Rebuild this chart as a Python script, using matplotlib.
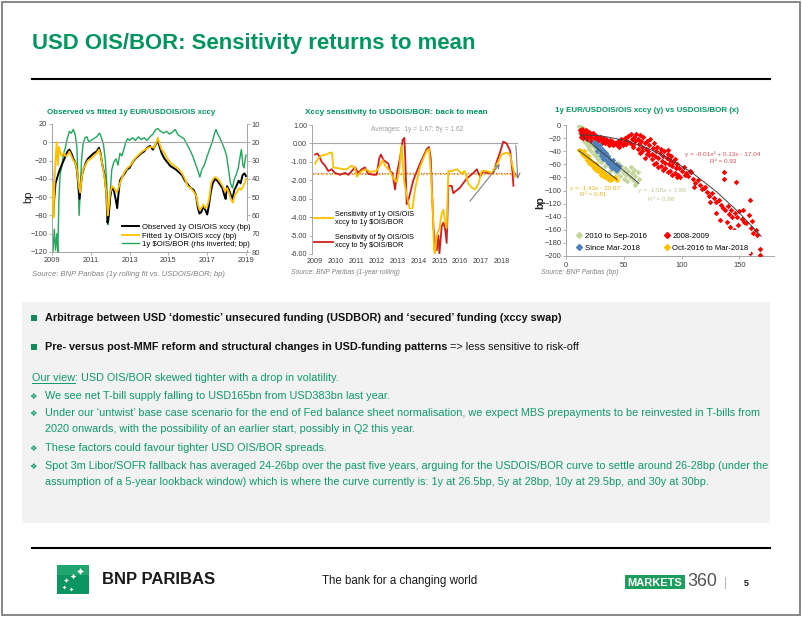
import matplotlib
matplotlib.use('Agg')
import matplotlib.pyplot as plt
from matplotlib import font_manager
from matplotlib.patches import Rectangle
from matplotlib.lines import Line2D

# ============================ DATA ============================
# Chart 1: Observed vs fitted 1y EUR/USDOIS/OIS xccy (bp); USD OIS/BOR on rhs (inverted)
c1_obs_t = [2009.00, 2009.03, 2009.07, 2009.12, 2009.18, 2009.25, 2009.32, 2009.40, 2009.50, 2009.60,
            2009.70, 2009.80, 2009.90, 2010.00, 2010.10, 2010.20, 2010.28, 2010.35, 2010.42, 2010.48,
            2010.55, 2010.65, 2010.75, 2010.85, 2011.00, 2011.15, 2011.30, 2011.42, 2011.50, 2011.60,
            2011.70, 2011.80, 2011.86, 2011.92, 2012.00, 2012.08, 2012.18, 2012.28, 2012.36, 2012.42,
            2012.50, 2012.60, 2012.72, 2012.85, 2013.00, 2013.15, 2013.30, 2013.45, 2013.60, 2013.75,
            2013.90, 2014.05, 2014.20, 2014.35, 2014.45, 2014.55, 2014.65, 2014.80, 2014.95, 2015.10,
            2015.25, 2015.40, 2015.55, 2015.70, 2015.85, 2016.00, 2016.15, 2016.30, 2016.42, 2016.52,
            2016.60, 2016.70, 2016.80, 2016.90, 2017.00, 2017.08, 2017.18, 2017.28, 2017.40, 2017.52,
            2017.65, 2017.78, 2017.88, 2017.95, 2018.02, 2018.12, 2018.22, 2018.30, 2018.40, 2018.50,
            2018.62, 2018.72, 2018.82, 2018.92, 2019.00]
c1_obs_v = [-20, -70, -80, -60, -45, -40, -35, -30, -25, -20,
            -15, -10, -8, -12, -18, -22, -30, -45, -62, -48,
            -35, -28, -22, -18, -15, -12, -10, -6, -12, -25,
            -35, -55, -88, -80, -60, -50, -52, -62, -72, -58,
            -42, -38, -35, -30, -28, -22, -18, -15, -12, -10,
            -6, -4, -8, -2, 2, -5, -12, -18, -22, -26,
            -28, -30, -33, -36, -42, -46, -50, -52, -58, -72,
            -78, -76, -70, -74, -79, -70, -55, -45, -40, -42,
            -46, -50, -58, -62, -48, -52, -58, -62, -52, -48,
            -42, -45, -36, -34, -37]
c1_fit_t = [2009.00, 2009.04, 2009.08, 2009.12, 2009.18, 2009.24, 2009.30, 2009.36, 2009.42, 2009.50,
            2009.60, 2009.70, 2009.80, 2009.90, 2010.00, 2010.10, 2010.20, 2010.30, 2010.38, 2010.45,
            2010.52, 2010.60, 2010.72, 2010.85, 2011.00, 2011.15, 2011.30, 2011.42, 2011.52, 2011.62,
            2011.72, 2011.80, 2011.87, 2011.93, 2012.00, 2012.10, 2012.20, 2012.32, 2012.40, 2012.50,
            2012.62, 2012.75, 2012.90, 2013.05, 2013.20, 2013.35, 2013.50, 2013.65, 2013.80, 2013.95,
            2014.10, 2014.25, 2014.38, 2014.45, 2014.55, 2014.65, 2014.80, 2014.95, 2015.10, 2015.25,
            2015.40, 2015.55, 2015.70, 2015.85, 2016.00, 2016.15, 2016.30, 2016.42, 2016.52, 2016.60,
            2016.70, 2016.80, 2016.90, 2017.00, 2017.10, 2017.20, 2017.30, 2017.42, 2017.55, 2017.68,
            2017.80, 2017.92, 2018.02, 2018.12, 2018.22, 2018.32, 2018.42, 2018.52, 2018.65, 2018.75,
            2018.85, 2018.95, 2019.00]
c1_fit_v = [-45, -60, -82, -50, -20, 0, -25, -5, -10, -15,
            -12, -15, -14, -10, -15, -20, -22, -32, -48, -55,
            -40, -30, -25, -20, -18, -15, -12, -8, -15, -28,
            -40, -55, -80, -70, -55, -48, -50, -55, -52, -45,
            -38, -32, -28, -25, -20, -16, -13, -10, -8, -6,
            -5, -6, 0, 5, -2, -8, -12, -18, -22, -25,
            -27, -30, -34, -40, -48, -50, -54, -58, -68, -74,
            -72, -68, -72, -70, -62, -45, -40, -38, -40, -44,
            -48, -54, -50, -55, -62, -66, -58, -55, -50, -52,
            -48, -44, -40]
c1_bor_t = [2009.00, 2009.05, 2009.12, 2009.18, 2009.25, 2009.30, 2009.36, 2009.42, 2009.50, 2009.60,
            2009.70, 2009.80, 2009.90, 2010.00, 2010.10, 2010.20, 2010.28, 2010.34, 2010.40, 2010.46,
            2010.52, 2010.60, 2010.70, 2010.80, 2010.90, 2011.00, 2011.15, 2011.30, 2011.45, 2011.55,
            2011.65, 2011.75, 2011.82, 2011.88, 2011.93, 2012.00, 2012.08, 2012.18, 2012.30, 2012.40,
            2012.50, 2012.60, 2012.70, 2012.80, 2012.90, 2013.00, 2013.15, 2013.30, 2013.45, 2013.60,
            2013.75, 2013.90, 2014.05, 2014.20, 2014.35, 2014.45, 2014.60, 2014.75, 2014.90, 2015.05,
            2015.20, 2015.35, 2015.50, 2015.65, 2015.80, 2015.95, 2016.10, 2016.25, 2016.40, 2016.55,
            2016.62, 2016.72, 2016.85, 2017.00, 2017.15, 2017.28, 2017.38, 2017.45, 2017.52, 2017.62,
            2017.75, 2017.90, 2018.00, 2018.10, 2018.20, 2018.30, 2018.40, 2018.50, 2018.60, 2018.70,
            2018.76, 2018.84, 2018.90, 2018.96, 2019.00]
c1_bor_v = [75, 80, 67.5, 79, 70, 80, 50, 37.5, 33.5, 26,
            22.5, 17.5, 14, 15, 13, 16, 22.5, 40, 60, 45,
            30, 21, 17.5, 17, 20, 19, 18, 17, 15, 17.5,
            21, 30, 42.5, 65, 62.5, 47.5, 35, 31, 29, 32.5,
            26, 27.5, 24, 20, 18, 19, 17.5, 19, 17, 18.5,
            17.5, 19, 17, 15.5, 13, 12.5, 14, 15, 14, 15.5,
            14.5, 13, 16, 17, 18, 21, 24, 27.5, 32, 36.5,
            39, 35, 32.5, 27.5, 23, 19, 15, 13, 15, 17,
            20, 24, 27.5, 35, 42.5, 45, 40, 37.5, 34, 27.5,
            24, 32.5, 34, 29, 27]
c1_xticks = [2009, 2011, 2013, 2015, 2017, 2019]
c1_yticks = [-120, -100, -80, -60, -40, -20, 0, 20]
c1_rticks = [10, 20, 30, 40, 50, 60, 70, 80]
c1_labels = ['Observed 1y OIS/OIS xccy (bp)', 'Fitted 1y OIS/OIS xccy (bp)',
             '1y $OIS/BOR (rhs inverted; bp)']

# Chart 2: rolling sensitivity of xccy to USD OIS/BOR
c2_1y_t = [2009.00, 2009.16, 2009.32, 2009.56, 2009.72, 2009.82, 2009.88, 2010.13, 2010.37, 2010.53,
           2010.77, 2010.93, 2011.01, 2011.25, 2011.46, 2011.65, 2011.97, 2012.13, 2012.26, 2012.38,
           2012.62, 2012.78, 2012.94, 2013.07, 2013.18, 2013.29, 2013.42, 2013.58, 2013.71, 2013.82,
           2014.06, 2014.23, 2014.39, 2014.50, 2014.58, 2014.68, 2014.74, 2014.79, 2014.87, 2015.00,
           2015.11, 2015.19, 2015.27, 2015.35, 2015.43, 2015.59, 2015.83, 2016.07, 2016.23, 2016.40,
           2016.56, 2016.72, 2016.88, 2017.04, 2017.28, 2017.52, 2017.68, 2017.84, 2018.00, 2018.24,
           2018.41, 2018.52, 2018.65]
c2_1y_v = [-1.10, -0.80, -0.65, -0.60, -0.50, -0.50, -1.30, -1.35, -1.40, -1.40,
           -1.20, -1.35, -1.80, -1.50, -1.40, -1.55, -1.50, -1.20, -0.90, -1.20,
           -1.50, -1.90, -2.10, -1.40, -0.10, -2.00, -2.80, -3.60, -3.50, -2.50,
           -1.30, -0.80, -0.40, -0.30, -1.50, -3.50, -5.80, -6.00, -5.00, -4.60,
           -3.80, -3.60, -4.20, -4.60, -1.50, -1.50, -1.40, -1.60, -1.50, -2.20,
           -2.40, -2.50, -2.20, -1.50, -1.50, -1.60, -1.30, -1.00, -0.60, -0.50,
           -0.60, -1.20, -1.80]
c2_5y_t = [2009.00, 2009.11, 2009.21, 2009.32, 2009.48, 2009.64, 2009.80, 2009.96, 2010.21, 2010.45,
           2010.61, 2010.77, 2010.93, 2011.09, 2011.25, 2011.41, 2011.57, 2011.81, 2011.97, 2012.10,
           2012.18, 2012.30, 2012.42, 2012.54, 2012.62, 2012.73, 2012.86, 2012.97, 2013.10, 2013.23,
           2013.31, 2013.36, 2013.42, 2013.50, 2013.74, 2014.06, 2014.39, 2014.50, 2014.58, 2014.71,
           2014.79, 2014.87, 2014.95, 2015.00, 2015.11, 2015.19, 2015.27, 2015.35, 2015.43, 2015.59,
           2015.67, 2015.99, 2016.32, 2016.64, 2016.80, 2016.96, 2017.12, 2017.28, 2017.60, 2017.76,
           2017.92, 2018.08, 2018.24, 2018.41, 2018.52, 2018.57]
c2_5y_v = [-0.60, -0.55, -0.70, -1.00, -1.20, -1.50, -1.40, -1.60, -1.70, -1.60,
           -1.70, -1.50, -1.30, -1.60, -1.40, -1.30, -1.65, -1.70, -1.70, -0.80,
           -0.60, -0.90, -1.00, -1.10, -1.50, -1.60, -2.50, -1.50, -0.80, 0.20,
           0.30, -1.00, -3.30, -3.10, -2.00, -1.10, -0.30, -0.20, -0.80, -4.50,
           -5.50, -5.80, -5.00, -6.00, -4.50, -4.30, -4.60, -5.40, -2.30, -2.30,
           -2.70, -2.40, -1.90, -1.60, -1.40, -1.80, -1.50, -1.60, -1.60, -1.00,
           -0.50, 0.10, 0.00, -0.40, -1.50, -2.30]
c2_avg_1y = -1.67
c2_avg_5y = -1.62
c2_xticks = [2009, 2010, 2011, 2012, 2013, 2014, 2015, 2016, 2017, 2018]
c2_yticks = [1, 0, -1, -2, -3, -4, -5, -6]
c2_labels = ['Sensitivity of 1y OIS/OIS\nxccy to 1y $OIS/BOR', 'Sensitivity of 5y OIS/OIS\nxccy to 5y $OIS/BOR']

# Chart 3: scatter xccy (y) vs USDOIS/BOR (x)
red_x = [12, 13, 13, 14, 14, 15, 15, 16, 17, 17, 18, 18, 19, 20, 20, 21, 22, 22, 23, 24,
         25, 26, 27, 28, 29, 30, 31, 32, 33, 34, 35, 36, 37, 38, 39, 40, 41, 42, 44, 45,
         46, 47, 48, 49, 50, 51, 52, 53, 54, 55, 56, 57, 58, 59, 60, 61, 62, 63, 64, 65,
         66, 67, 68, 69, 70, 71, 72, 73, 74, 75, 76, 77, 78, 79, 80, 81, 82, 83, 84, 85,
         86, 87, 88, 89, 90, 91, 92, 93, 94, 96, 98, 100, 102, 104, 106, 108, 110, 112, 114, 116,
         118, 120, 122, 124, 126, 128, 130, 132, 134, 136, 137, 137, 138, 139, 140, 141, 142, 143, 144, 146,
         147, 148, 149, 150, 152, 153, 154, 156, 157, 158, 159, 159, 160, 161, 162, 164, 165, 168, 168, 130,
         133, 145, 74, 78, 82, 86, 90, 94, 97, 99, 76, 80, 84, 88, 92, 96, 70, 66, 62, 58,
         64, 68, 72, 88, 95, 103, 107, 111, 119, 125]
red_y = [-8, -12, -18, -6, -15, -10, -20, -13, -8, -17, -12, -22, -15, -10, -19, -14, -18, -24, -12, -20,
         -16, -22, -19, -25, -18, -22, -27, -20, -24, -28, -21, -26, -30, -23, -28, -25, -31, -27, -30, -24,
         -33, -28, -22, -31, -26, -20, -29, -24, -17, -27, -14, -22, -30, -18, -25, -13, -21, -29, -16, -24,
         -33, -19, -28, -36, -25, -40, -31, -22, -44, -35, -28, -48, -39, -33, -50, -43, -37, -55, -47, -40,
         -58, -50, -45, -60, -53, -48, -62, -56, -52, -60, -66, -70, -64, -74, -78, -72, -82, -88, -84, -92,
         -98, -94, -102, -108, -104, -112, -118, -114, -122, -126, -71, -83, -130, -148, -124, -136, -156, -130, -141, -134,
         -87, -140, -152, -131, -144, -130, -148, -150, -163, -138, -115, -196, -158, -147, -165, -160, -168, -189, -199, -135,
         -145, -160, -52, -58, -62, -66, -70, -74, -77, -79, -60, -64, -68, -72, -76, -80, -45, -40, -36, -34,
         -42, -50, -46, -38, -66, -76, -70, -95, -96, -118]
grn_x = [11, 12, 12, 13, 13, 14, 14, 15, 15, 16, 16, 17, 17, 18, 18, 19, 19, 20, 20, 21,
         22, 22, 23, 24, 24, 25, 26, 26, 27, 28, 28, 29, 30, 30, 31, 32, 33, 34, 34, 35,
         36, 37, 38, 38, 39, 40, 41, 42, 43, 44, 45, 46, 47, 48, 49, 50, 51, 52, 53, 54,
         55, 56, 57, 58, 59, 60, 61, 62, 63, 60]
grn_y = [-2, -6, -12, -3, -16, -9, -20, -5, -14, -24, -10, -18, -28, -12, -22, -32, -16, -26, -36, -20,
         -30, -40, -24, -34, -44, -28, -38, -48, -32, -42, -52, -36, -46, -56, -40, -50, -44, -54, -62, -48,
         -58, -52, -62, -70, -56, -66, -60, -70, -64, -74, -58, -68, -78, -62, -72, -82, -66, -76, -86, -70,
         -80, -64, -74, -84, -68, -78, -88, -72, -82, -92]
blu_x = [24, 25, 26, 27, 28, 27, 29, 30, 31, 30, 32, 33, 33, 34, 35, 36, 36, 37, 38, 38,
         39, 40, 40, 41, 42, 43, 43, 44, 45, 46, 44, 35, 32, 29, 41]
blu_y = [-26, -30, -28, -34, -32, -40, -37, -42, -36, -48, -44, -40, -50, -46, -54, -48, -58, -52, -60, -54,
         -64, -58, -66, -62, -66, -60, -69, -64, -66, -62, -69, -42, -52, -31, -54]
yel_x = [11, 13, 14, 15, 16, 16, 17, 18, 18, 19, 20, 20, 21, 22, 22, 23, 24, 24, 25, 26,
         26, 27, 28, 28, 29, 30, 30, 31, 32, 33, 34, 35, 36, 37, 38, 39, 40, 42, 44]
yel_y = [-38, -40, -44, -42, -40, -48, -46, -50, -54, -48, -52, -58, -54, -60, -56, -62, -58, -66, -62, -68,
         -60, -64, -70, -66, -72, -68, -76, -72, -78, -74, -80, -76, -82, -78, -84, -80, -82, -80, -84]
# trendlines
trend_red_x = [13, 30, 50, 70, 90, 110, 130, 150, 169]
trend_red_y = [-15.0, -16.5, -23.0, -34.8, -51.8, -74.0, -101.5, -134.1, -170.0]
trend_grn_x = [13, 63]
trend_grn_y = [-15, -89]
trend_yel_x = [11, 44]
trend_yel_y = [-39, -83]
c3_xticks = [0, 50, 100, 150]
c3_yticks = [0, -20, -40, -60, -80, -100, -120, -140, -160, -180, -200]
c3_labels = ['2010 to Sep-2016', 'Since Mar-2018', '2008-2009', 'Oct-2016 to Mar-2018']

# ============================ STYLE / FONTS ============================
SANS = ['Liberation Sans', 'DejaVu Sans']
plt.rcParams['font.family'] = SANS

W, H = 802, 617
fig = plt.figure(figsize=(W / 100, H / 100), dpi=100)
renderer = fig.canvas.get_renderer()

# choose the narrowest available sans face for the narrow-style texts of the slide
cands = [dict(family=['Liberation Sans Narrow', 'Liberation Sans']),
         dict(family=['DejaVu Sans'], stretch='condensed'),
         dict(family=['Liberation Sans'])]
best, bw = None, 1e9
for c in cands:
    tt = fig.text(0, 0, 'Sensitivity returns to mean', fontsize=10, **c)
    w = tt.get_window_extent(renderer).width
    tt.remove()
    if w < bw:
        best, bw = c, w
NK = best

GREEN = '#00965E'
TXTGREEN = '#0E9A6A'
GRAY = '#A6A6A6'
TICK = '#404040'

fits = []  # (list of texts, list of reference texts, target width in px)


def rect(x0, y0, x1, y1):
    return [x0 / W, 1 - y1 / H, (x1 - x0) / W, (y1 - y0) / H]


bg = fig.add_axes([0, 0, 1, 1])
bg.set_xlim(0, W)
bg.set_ylim(H, 0)
bg.axis('off')

bg.add_patch(Rectangle((1.5, 1.5), W - 3.5, H - 3.5, fill=False, ec='#7F7F7F', lw=1.3))
tt = bg.text(32, 44, 'USD OIS/BOR: Sensitivity returns to mean', weight='bold',
             fontsize=17.5, color=GREEN, va='center', ha='left', **NK)
fits.append(([tt], [tt], 444))
bg.plot([32, 770], [79, 79], color='black', lw=1.5)
bg.plot([32, 770], [548, 548], color='black', lw=1.5)

# gray text box
bg.add_patch(Rectangle((22, 302), 748, 221, color='#F2F2F2', lw=0))
BODY = 8.6
bold_texts = []
for yy, bold, rest in [(318, 'Arbitrage between USD \u2018domestic\u2019 unsecured funding (USDBOR) and \u2018secured\u2019 funding (xccy swap)', None),
                       (347, 'Pre- versus post-MMF reform and structural changes in USD-funding patterns', ' => less sensitive to risk-off')]:
    bg.add_patch(Rectangle((31, yy - 3), 5.5, 5.5, color='#138A5A', lw=0))
    t = bg.text(45, yy, bold, weight='bold', fontsize=BODY, color='#111111', va='center', **NK)
    bold_texts.append(t)
    if rest:
        a = bg.annotate(rest, xy=(1, 0.5), xycoords=t, fontsize=BODY, color='#111111',
                        va='center', ha='left', **NK)
        bold_texts.append(a)
fits.append((bold_texts, [bold_texts[0]], 519))

green_texts = []
tv = bg.text(32, 378, 'Our view', fontsize=BODY, color=TXTGREEN, va='center', **NK)
green_texts.append(tv)
green_texts.append(bg.annotate(': USD OIS/BOR skewed tighter with a drop in volatility.', xy=(1, 0.5),
                               xycoords=tv, fontsize=BODY, color=TXTGREEN, va='center', ha='left', **NK))

bullets = [(396, ['We see net T-bill supply falling to USD165bn from USD383bn last year.']),
           (413, ['Under our \u2018untwist\u2019 base case scenario for the end of Fed balance sheet normalisation, we expect MBS prepayments to be reinvested in T-bills from',
                  '2020 onwards, with the possibility of an earlier start, possibly in Q2 this year.']),
           (448, ['These factors could favour tighter USD OIS/BOR spreads.']),
           (466, ['Spot 3m Libor/SOFR fallback has averaged 24-26bp over the past five years, arguing for the USDOIS/BOR curve to settle around 26-28bp (under the',
                  'assumption of a 5-year lookback window) which is where the curve currently is: 1y at 26.5bp, 5y at 28bp, 10y at 29.5bp, and 30y at 30bp.'])]
ref_lines = []
for yy, lines in bullets:
    bg.text(33.5, yy, '\u2756', family=['DejaVu Sans'], fontsize=6, color=TXTGREEN, va='center', ha='center')
    for i, ln in enumerate(lines):
        t = bg.text(45, yy + i * 16.3, ln, fontsize=BODY, color=TXTGREEN, va='center', **NK)
        green_texts.append(t)
        if ln.startswith('Under') or ln.startswith('Spot'):
            ref_lines.append(t)
fits.append((green_texts, ref_lines, 722))

# footer
bg.add_patch(Rectangle((57, 565), 32, 29, color='#0B9560', lw=0))
bg.add_patch(Rectangle((57, 565), 32, 10, color='#2DB37A', lw=0, alpha=0.6))
for sx, sy, ss in [(80, 571, 5), (73, 576, 4), (66, 580, 3.5), (64, 587, 3), (71, 589, 3)]:
    bg.plot(sx, sy, marker=(4, 1, 0), ms=ss, color='white', mew=0)
tt = bg.text(102, 580, 'BNP PARIBAS', weight='bold', fontsize=11.5, color='#1A1A1A', va='center', ha='left')
fits.append(([tt], [tt], 113))
tt = bg.text(322, 581, 'The bank for a changing world', fontsize=9.5, color='#1A1A1A',
             va='center', ha='left', **NK)
fits.append(([tt], [tt], 156))
bg.add_patch(Rectangle((625, 575), 60, 14, color='#1E9E5E', lw=0))
tt = bg.text(655, 582.5, 'MARKETS', weight='bold', fontsize=9.5, color='white', va='center', ha='center', **NK)
fits.append(([tt], [tt], 55))
tt = bg.text(687, 582, '360', fontsize=11.5, color='#555555', va='center', ha='left', **NK)
fits.append(([tt], [tt], 30))
bg.plot([725, 725], [577, 588], color='#BBBBBB', lw=0.8)
bg.text(746, 583, '5', weight='bold', fontsize=6.5, color='#1A1A1A', va='center', ha='center')

# chart titles / sources
for x, y, s, wt in [(47, 112, 'Observed vs fitted 1y EUR/USDOIS/OIS xccy', 168),
                    (305, 112, 'Xccy sensitivity to USDOIS/BOR: back to mean', 180),
                    (555, 111, '1y EUR/USDOIS/OIS xccy (y) vs USDOIS/BOR (x)', 182)]:
    tt = bg.text(x, y, s, weight='bold', fontsize=6.6, color=GREEN, va='center', ha='left', **NK)
    fits.append(([tt], [tt], wt))
for x, y, s, wt in [(32, 274, 'Source: BNP Paribas (1y rolling fit vs. USDOIS/BOR; bp)', 191),
                    (291, 273, 'Source: BNP Paribas (1-year rolling)', 111),
                    (541, 273, 'Source: BNP Paribas (bp)', 78)]:
    tt = bg.text(x, y, s, style='italic', fontsize=5.0, color='#7F7F7F', va='center', ha='left')
    fits.append(([tt], [tt], wt))
bg.text(28, 197, 'bp', fontsize=8, rotation=90, va='center', ha='center', color='#222222')
bg.text(540, 203, 'bp', fontsize=7.5, rotation=90, va='center', ha='center', color='#222222', weight='bold')


def style_ticks(ax, size, kw=None):
    ax.tick_params(axis='both', colors=GRAY, labelcolor=TICK, labelsize=size, length=2, width=0.6, pad=1.5)
    if kw:
        for lab in ax.get_xticklabels() + ax.get_yticklabels():
            lab.set_family(kw['family'])
            if 'stretch' in kw:
                lab.set_stretch(kw['stretch'])


# ---------------- Chart 1 ----------------
ax1 = fig.add_axes(rect(52, 124, 247, 252))
ax1r = ax1.twinx()
ax1.set_zorder(ax1r.get_zorder() + 1)
ax1.patch.set_visible(False)
ax1r.plot(c1_bor_t, c1_bor_v, color='#1FA85A', lw=1.0)
ax1.axhline(0, color=GRAY, lw=0.8, zorder=1)
ax1.plot(c1_fit_t, c1_fit_v, color='#FFC000', lw=1.3, zorder=3)
ax1.plot(c1_obs_t, c1_obs_v, color='black', lw=1.4, zorder=2)
ax1.set_xlim(2009, 2019.05)
ax1.set_ylim(-120, 20)
ax1r.set_ylim(80, 10)
ax1.set_xticks(c1_xticks)
ax1.set_yticks(c1_yticks)
ax1r.set_yticks(c1_rticks)
for a in (ax1, ax1r):
    for s in a.spines.values():
        s.set_color(GRAY)
        s.set_linewidth(0.7)
    a.spines['top'].set_visible(False)
style_ticks(ax1, 5.4, NK)
style_ticks(ax1r, 5.4, NK)
h1 = [Line2D([], [], color='black', lw=1.4), Line2D([], [], color='#FFC000', lw=1.3),
      Line2D([], [], color='#1FA85A', lw=1.0)]
prop1 = dict(size=5.6, **NK)
leg1 = ax1.legend(h1, c1_labels, loc='lower left', bbox_to_anchor=(0.34, 0.0), frameon=True,
                  facecolor='white', edgecolor='none', framealpha=1, prop=prop1,
                  handlelength=2.2, handletextpad=0.4, labelspacing=0.15, borderpad=0.3, borderaxespad=0.2)

# ---------------- Chart 2 ----------------
ax2 = fig.add_axes(rect(312, 125, 518, 254))
ax2.axhline(0, color=GRAY, lw=0.8, zorder=1)
ax2.axhline(c2_avg_1y, color='#F2B33D', lw=0.9, ls=(0, (2, 1.5)), zorder=1)
ax2.axhline(c2_avg_5y, color='#D9531E', lw=0.8, ls=(0, (1, 1.5)), zorder=1)
ax2.plot(c2_1y_t, c2_1y_v, color='#FFC000', lw=1.3, zorder=3)
ax2.plot(c2_5y_t, c2_5y_v, color='#D01F1F', lw=1.3, zorder=2)
ax2.set_xlim(2008.855, 2018.79)
ax2.set_ylim(-6, 1)
ax2.set_xticks(c2_xticks)
ax2.set_yticks(c2_yticks)
ax2.set_yticklabels([f'{v:.2f}' for v in c2_yticks])
for s in ['top', 'right', 'bottom']:
    ax2.spines[s].set_visible(False)
ax2.spines['left'].set_color(GRAY)
ax2.spines['left'].set_linewidth(0.7)
style_ticks(ax2, 5.2)
ax2.tick_params(axis='x', length=0, pad=3)
ax2.text(2013.92, 0.78, 'Averages:  1y = 1.67; 5y = 1.62', fontsize=4.8, color='#A0A0A0', ha='center', va='center')
ax2.annotate('', xy=(2018.0, -0.99), xytext=(2016.39, -3.25),
             arrowprops=dict(arrowstyle='->', color='#808080', lw=0.8, mutation_scale=7))
ax2.annotate('', xy=(2018.79, -2.09), xytext=(2018.68, 0.04), annotation_clip=False,
             arrowprops=dict(arrowstyle='->', color='#808080', lw=0.8, mutation_scale=9))
h2 = [Line2D([], [], color='#FFC000', lw=1.3), Line2D([], [], color='#D01F1F', lw=1.3)]
ax2.legend(h2, c2_labels, loc='lower left', bbox_to_anchor=(0.0, 0.02), frameon=True, facecolor='white',
           edgecolor='none', framealpha=1, prop={'size': 5.2}, handlelength=2.6, handletextpad=0.3,
           labelspacing=1.2, borderpad=0.2, borderaxespad=0.1)

# ---------------- Chart 3 ----------------
ax3 = fig.add_axes(rect(566, 125, 774, 256))
ms = 8
ax3.scatter(grn_x, grn_y, s=ms, marker='D', color='#C3D69B', lw=0, zorder=2)
ax3.scatter(red_x, red_y, s=ms, marker='D', color='#FF0000', lw=0, zorder=3)
ax3.scatter(yel_x, yel_y, s=ms, marker='D', color='#FFC000', lw=0, zorder=3)
ax3.scatter(blu_x, blu_y, s=ms, marker='D', color='#4F81BD', lw=0, zorder=3)
ax3.plot(trend_red_x, trend_red_y, color='#404040', lw=0.7, zorder=4)
ax3.plot(trend_grn_x, trend_grn_y, color='#404040', lw=0.7, zorder=4)
ax3.plot(trend_yel_x, trend_yel_y, color='#404040', lw=0.7, zorder=4)
ax3.set_xlim(0, 180)
ax3.set_ylim(-200, 0)
ax3.set_xticks(c3_xticks)
ax3.set_yticks(c3_yticks)
for s in ['top', 'right']:
    ax3.spines[s].set_visible(False)
for s in ['left', 'bottom']:
    ax3.spines[s].set_color(GRAY)
    ax3.spines[s].set_linewidth(0.7)
style_ticks(ax3, 5.4)
ax3.tick_params(axis='x', pad=2)
EQ = 4.6
ax3.text(135.6, -44, 'y = -0.01x\u00b2 + 0.13x - 17.04', fontsize=EQ, color='#E05050', ha='center', va='center')
ax3.text(136, -56, 'R\u00b2 = 0.93', fontsize=EQ, color='#E05050', ha='center', va='center')
ax3.text(25, -97, 'y = -1.43x - 20.67', fontsize=EQ, color='#E6B422', ha='center', va='center')
ax3.text(24, -105.5, 'R\u00b2 = 0.81', fontsize=EQ, color='#E6B422', ha='center', va='center')
ax3.text(82.6, -100, 'y = -1.58x + 3.88', fontsize=EQ, color='#B8CC94', ha='center', va='center')
ax3.text(82, -113, 'R\u00b2 = 0.88', fontsize=EQ, color='#B8CC94', ha='center', va='center')
h3 = [Line2D([], [], marker='D', ls='', color=c, ms=3) for c in ['#C3D69B', '#4F81BD', '#FF0000', '#FFC000']]
ax3.legend(h3, c3_labels, ncol=2, loc='lower left', bbox_to_anchor=(0.03, 0.0), frameon=True,
           facecolor='white', edgecolor='none', framealpha=1, prop={'size': 5.6}, handlelength=0.8,
           handletextpad=0.3, columnspacing=2.2, labelspacing=0.6, borderpad=0.3, borderaxespad=0.2)

# fit text widths to the reference layout (two passes because of glyph hinting)
for _ in range(2):
    for texts, refs, target in fits:
        w = max(r.get_window_extent(renderer).width for r in refs)
        k = target / w
        for t in texts:
            t.set_fontsize(t.get_fontsize() * k)

# underline for "Our view"
fig.canvas.draw()
bb = tv.get_window_extent(renderer)
inv = bg.transData.inverted()
(xa, ya), (xb, yb) = inv.transform([(bb.x0, bb.y0), (bb.x1, bb.y0)])
bg.plot([xa, xb], [ya - 0.3, ya - 0.3], color=TXTGREEN, lw=0.7)

fig.savefig('out.png', dpi=100)
